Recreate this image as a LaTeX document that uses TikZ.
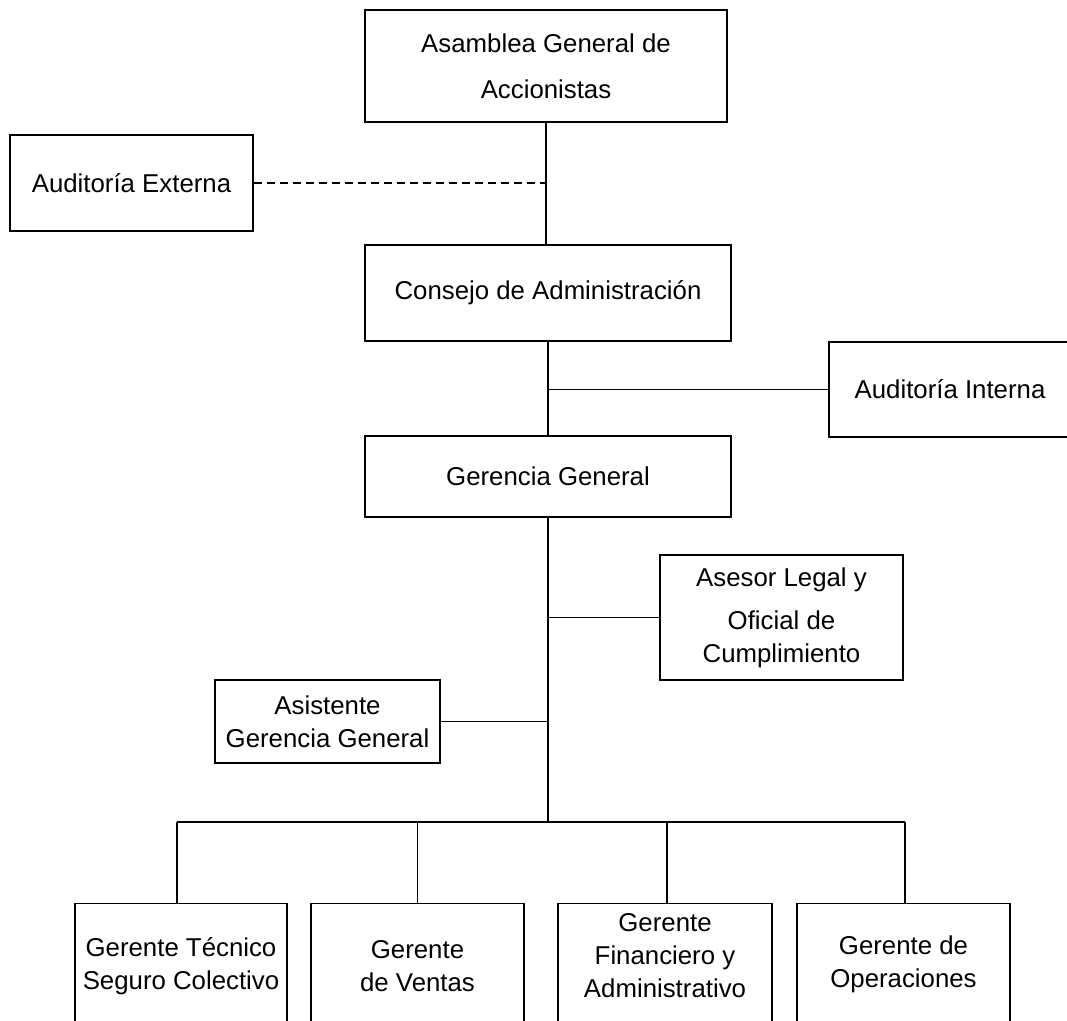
\documentclass[tikz,border=0pt]{standalone}
\usepackage{fontspec}
\setmainfont{Liberation Sans}
\tikzset{
  orgbox/.style={draw, rectangle, line width=1.2pt, inner sep=0pt, align=center,
    font=\fontsize{25.8}{33}\selectfont},
  boxtxt/.style={inner sep=0pt, align=center, font=\fontsize{25.8}{33}\selectfont},
  link/.style={line width=1.3pt}
}
\begin{document}
\begin{tikzpicture}[x=1pt, y=-1pt]
      \clip (0,0) rectangle (1067,1020);
      \fill[white] (0,0) rectangle (1067,1020);
      % upper levels
      \node[orgbox, minimum width=362, minimum height=112] (asam) at (546,66)
        {Asamblea General de\\[13pt]Accionistas};
      \node[orgbox, minimum width=243, minimum height=96] (ext) at (131.5,183) {Auditoría Externa};
      \node[orgbox, minimum width=366, minimum height=96] (cons) at (548,293) {Consejo de Administración};
      \node[orgbox, minimum width=242, minimum height=95] (inte) at (950,389.5) {Auditoría Interna};
      \node[orgbox, minimum width=366, minimum height=81] (gg) at (548,476.5) {Gerencia General};
      \node[orgbox, minimum width=243, minimum height=125] (ase) at (781.5,617.5)
        {Asesor Legal y\\[10pt]Oficial de\\Cumplimiento};
      \node[orgbox, minimum width=225, minimum height=83] (asis) at (327.5,721.5)
        {Asistente\\Gerencia General};
      % managers
      \node[orgbox, anchor=north, minimum width=212, minimum height=160] (tec) at (181,903) {};
      \node[orgbox, anchor=north, minimum width=213, minimum height=160] (ven) at (417.5,903) {};
      \node[orgbox, anchor=north, minimum width=214, minimum height=160] (fin) at (665,903) {};
      \node[orgbox, anchor=north, minimum width=213, minimum height=160] (ope) at (903.5,903) {};
      \node[boxtxt] (tecT) at (181,966) {Gerente Técnico\\Seguro Colectivo};
      \node[boxtxt] (venT) at (417.5,966) {Gerente\\de Ventas};
      \node[boxtxt] (finT) at (665,956) {Gerente\\Financiero y\\Administrativo};
      \node[boxtxt] (opeT) at (903.5,964) {Gerente de\\Operaciones};
      \coordinate (bar) at (548,822);
      \coordinate (tecD) at ([xshift=-4pt]tec.north);
      \coordinate (venD) at (ven.north);
      \coordinate (finD) at ([xshift=2pt]fin.north);
      \coordinate (opeD) at ([xshift=1.5pt]ope.north);
      \begin{scope}[link]
        \draw (asam.south) -- (asam.south |- cons.north);
        \draw[dashed, dash pattern=on 8pt off 5pt] (ext.east) -- (ext.east -| asam.south);
        \draw (cons.south) -- (gg.north);
        \draw (inte.west) -- (inte.west -| cons.south);
        \draw (gg.south) -- (bar);
        \draw (ase.west) -- (ase.west -| gg.south);
        \draw (asis.east) -- (asis.east -| gg.south);
        \draw (tecD |- bar) -- (opeD |- bar);
        \foreach \m in {tecD,venD,finD,opeD}
          \draw (\m |- bar) -- (\m);
      \end{scope}
    \end{tikzpicture}
\end{document}
